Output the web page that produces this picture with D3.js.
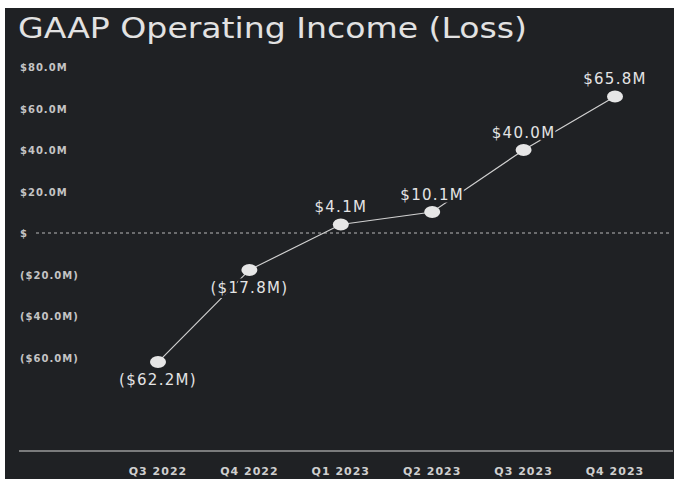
<!DOCTYPE html>
<html lang="en">
  <head>
    <meta charset="UTF-8" />
    <title>GAAP Operating Income (Loss)</title>
    <script src="https://d3js.org/d3.v7.min.js"></script>
    <style>
      body {
        margin: 0;
        background: #fff;
        font-family: "DejaVu Sans", Arial, sans-serif;
      }
    </style>
  </head>
  <body>
    <script>
      // quarters and operating income in $M
      var quarters = ["Q3 2022", "Q4 2022", "Q1 2023", "Q2 2023", "Q3 2023", "Q4 2023"];
      var income = [-62.2, -17.8, 4.1, 10.1, 40.0, 65.8];
      var yTicks = [80, 60, 40, 20, 0, -20, -40, -60];

      var width = 676,
        height = 479;
      var bg = "#1f2124";

      var svg = d3
        .select("body")
        .append("svg")
        .attr("width", width)
        .attr("height", height);

      // dark panel
      svg
        .append("rect")
        .attr("x", 5)
        .attr("y", 8)
        .attr("width", 669)
        .attr("height", 471)
        .attr("fill", bg);

      svg
        .append("text")
        .attr("x", 18)
        .attr("y", 38)
        .attr("fill", "#e2e2e2")
        .attr("textLength", 509)
        .attr("lengthAdjust", "spacingAndGlyphs")
        .style("font-size", "29px")
        .text("GAAP Operating Income (Loss)");

      var x = d3.scalePoint().domain(quarters).range([158, 615]);
      var y = d3.scaleLinear().domain([0, 80]).range([233, 67]);

      function money(v) {
        if (v === 0) return "$";
        var s = "$" + Math.abs(v).toFixed(1) + "M";
        return v < 0 ? "(" + s + ")" : s;
      }

      // y tick labels
      svg
        .append("g")
        .selectAll("text")
        .data(yTicks)
        .join("text")
        .attr("x", 20)
        .attr("y", function (d) {
          return y(d) + 4;
        })
        .attr("fill", "#c4c4c4")
        .style("font-size", "10px")
        .style("font-weight", "bold")
        .style("letter-spacing", "1px")
        .text(money);

      // zero line
      svg
        .append("line")
        .attr("x1", 36)
        .attr("x2", 672)
        .attr("y1", y(0))
        .attr("y2", y(0))
        .attr("stroke", "#b8b8b8")
        .attr("stroke-dasharray", "3,3");

      // x axis
      svg
        .append("line")
        .attr("x1", 19)
        .attr("x2", 673)
        .attr("y1", 451)
        .attr("y2", 451)
        .attr("stroke", "#9a9a9a")
        .attr("stroke-width", 1.5);

      svg
        .append("g")
        .selectAll("text")
        .data(quarters)
        .join("text")
        .attr("x", function (d) {
          return x(d);
        })
        .attr("y", 475)
        .attr("text-anchor", "middle")
        .attr("fill", "#cfcfcf")
        .style("font-size", "11px")
        .style("font-weight", "bold")
        .style("letter-spacing", "1px")
        .text(function (d) {
          return d;
        });

      var pts = quarters.map(function (q, i) {
        return [x(q), y(income[i])];
      });

      svg
        .append("path")
        .attr("d", d3.line()(pts))
        .attr("fill", "none")
        .attr("stroke", "#d0d0d0")
        .attr("stroke-width", 1.2);

      svg
        .append("g")
        .selectAll("ellipse")
        .data(pts)
        .join("ellipse")
        .attr("cx", function (d) {
          return d[0];
        })
        .attr("cy", function (d) {
          return d[1];
        })
        .attr("rx", 8)
        .attr("ry", 6)
        .attr("fill", "#e6e6e6");

      // value labels, with a dark halo that cuts the line
      svg
        .append("g")
        .selectAll("text")
        .data(income)
        .join("text")
        .attr("x", function (d, i) {
          return x(quarters[i]);
        })
        .attr("y", function (d) {
          return d < 0 ? y(d) + 23 : y(d) - 12;
        })
        .attr("text-anchor", "middle")
        .attr("fill", "#e4e4e4")
        .attr("stroke", bg)
        .attr("stroke-width", 5)
        .attr("paint-order", "stroke")
        .style("font-size", "15px")
        .style("letter-spacing", "1.3px")
        .text(money);
    </script>
  </body>
</html>
